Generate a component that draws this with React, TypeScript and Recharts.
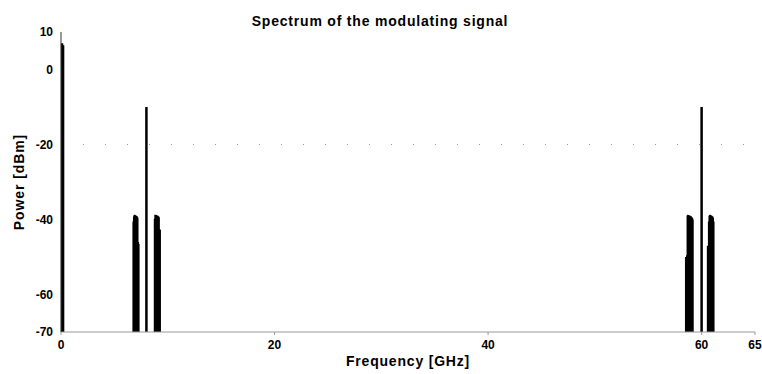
import { LineChart, Line, XAxis, YAxis, ReferenceLine } from "recharts";

// frequency axis [GHz] and power axis [dBm]
const freqTicks = [0, 20, 40, 60, 65];
const powerTicks = [-70, -60, -40, -20, 0, 10];
const floor = -70;

// DC component near 0 GHz
const dcFreqs = [0.05, 0.15, 0.25];
const dcPower = [7, 7, 6.5];

// optical carriers
const carrierFreqs = [8, 60];
const carrierPower = [-10, -10];

// modulation sidebands around each carrier
const sbLow1Freqs = [6.75, 6.8, 6.85, 6.9, 6.95, 7.0, 7.05, 7.1, 7.15, 7.2, 7.25, 7.3];
const sbLow1Power = [-40.5, -39.2, -38.8, -38.7, -38.8, -38.9, -39, -39.1, -39.2, -39.5, -46, -46.5];

const sbHigh1Freqs = [8.75, 8.8, 8.85, 8.9, 8.95, 9.0, 9.05, 9.1, 9.15, 9.2, 9.25, 9.3];
const sbHigh1Power = [-39.8, -38.7, -38.7, -38.8, -38.8, -38.9, -39, -39, -39.2, -39.4, -42.5, -42.8];

const sbLow2Freqs = [58.5, 58.55, 58.6, 58.65, 58.7, 58.75, 58.8, 58.85, 58.9, 58.95, 59.0, 59.05, 59.1, 59.15, 59.2];
const sbLow2Power = [-50, -50, -49.5, -38.9, -38.7, -38.8, -38.8, -38.9, -39, -39, -39.1, -39.2, -39.4, -39.6, -40];

const sbHigh2Freqs = [60.55, 60.6, 60.65, 60.7, 60.75, 60.8, 60.85, 60.9, 60.95, 61.0, 61.05, 61.1, 61.15];
const sbHigh2Power = [-47, -47, -40.5, -39, -38.8, -38.7, -38.8, -38.9, -39, -39.1, -39.2, -39.5, -40.5];

type Row = { f: number; thin?: number | null; thick?: number | null };

// each spectral line is drawn as a stem from the floor up to its power
const stems = (freqs: number[], powers: number[], key: "thin" | "thick"): Row[] =>
  freqs.flatMap((f, i) => [
    { f, [key]: floor },
    { f, [key]: powers[i] },
    { f, [key]: null },
  ]);

const data: Row[] = [
  ...stems(dcFreqs, dcPower, "thin"),
  ...stems(sbLow1Freqs, sbLow1Power, "thin"),
  ...stems(sbHigh1Freqs, sbHigh1Power, "thin"),
  ...stems(sbLow2Freqs, sbLow2Power, "thin"),
  ...stems(sbHigh2Freqs, sbHigh2Power, "thin"),
  ...stems(carrierFreqs, carrierPower, "thick"),
];

const font = "'Liberation Sans', Arial, Helvetica, sans-serif";

export default function App() {
  return (
    <div
      style={{
        position: "absolute",
        left: 0,
        top: 0,
        width: 762,
        height: 374,
        background: "#fff",
        fontFamily: font,
      }}
    >
      <div
        style={{
          position: "absolute",
          left: 0,
          top: 13,
          width: 760,
          textAlign: "center",
          fontSize: 14,
          fontWeight: "bold",
          letterSpacing: 0.8,
          lineHeight: "16px",
          color: "#000",
        }}
      >
        Spectrum of the modulating signal
      </div>
      <LineChart
        width={762}
        height={374}
        data={data}
        margin={{ top: 32, right: 7, bottom: 0, left: 0 }}
        style={{ fontFamily: font }}
      >
        <XAxis
          dataKey="f"
          type="number"
          domain={[0, 65]}
          ticks={freqTicks}
          height={42}
          tickSize={3}
          tickMargin={5}
          axisLine={{ stroke: "#999" }}
          tickLine={{ stroke: "#999" }}
          tick={{ fill: "#000", fontSize: 12, fontWeight: "bold" }}
          label={{
            value: "Frequency [GHz]",
            position: "insideBottom",
            offset: 8,
            fill: "#000",
            fontSize: 14,
            fontWeight: "bold",
            letterSpacing: 0.8,
          }}
        />
        <YAxis
          type="number"
          domain={[-70, 10]}
          ticks={powerTicks}
          width={61}
          tickSize={0}
          tickMargin={8}
          axisLine={{ stroke: "#333" }}
          tickLine={false}
          tick={{ fill: "#000", fontSize: 12, fontWeight: "bold" }}
          label={{
            value: "Power [dBm]",
            angle: -90,
            position: "insideLeft",
            offset: 19,
            textAnchor: "middle",
            fill: "#000",
            fontSize: 14,
            fontWeight: "bold",
            letterSpacing: 0.9,
          }}
        />
        <ReferenceLine y={-20} stroke="#999" strokeDasharray="1 21" />
        <Line
          type="linear"
          dataKey="thin"
          stroke="#000"
          strokeWidth={1.3}
          dot={false}
          activeDot={false}
          connectNulls={false}
          isAnimationActive={false}
        />
        <Line
          type="linear"
          dataKey="thick"
          stroke="#000"
          strokeWidth={2.5}
          dot={false}
          activeDot={false}
          connectNulls={false}
          isAnimationActive={false}
        />
      </LineChart>
    </div>
  );
}
